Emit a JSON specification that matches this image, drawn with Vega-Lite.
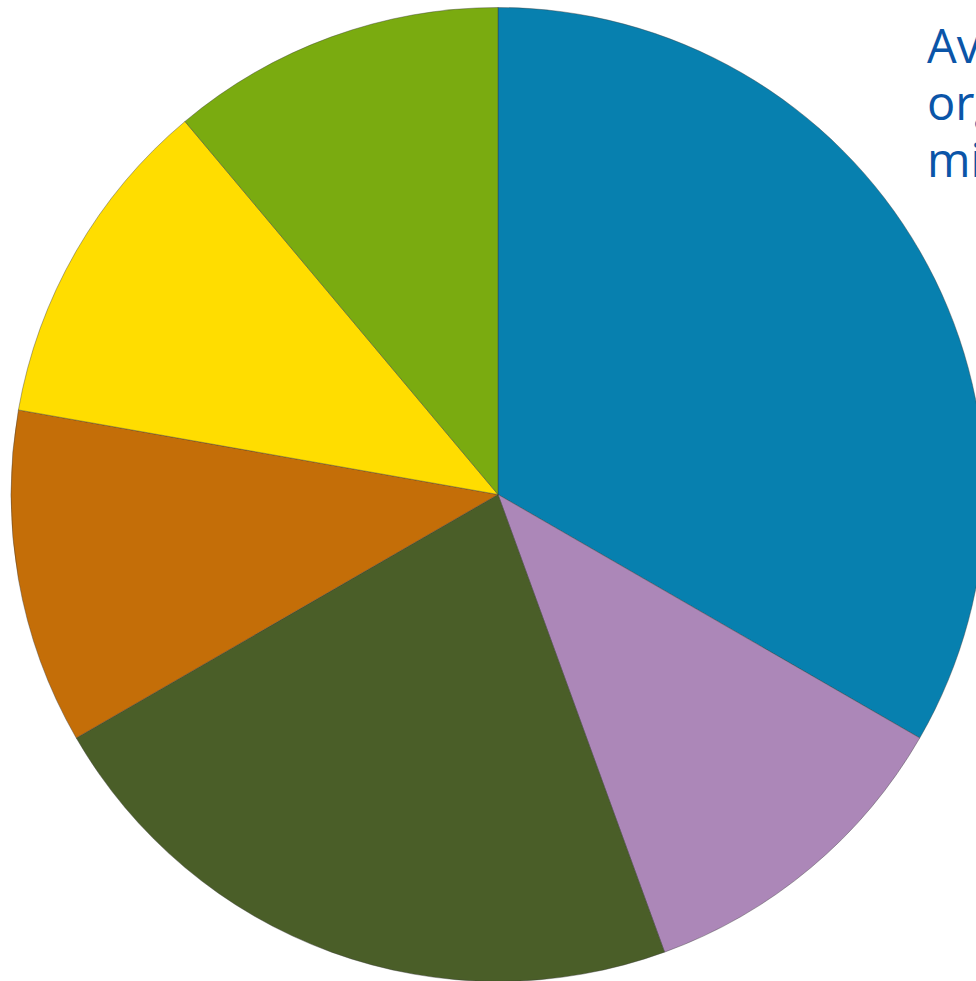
{
  "$schema": "https://vega.github.io/schema/vega-lite/v6.json",
  "width": 976,
  "height": 981,
  "padding": 0,
  "autosize": {"type": "none"},
  "background": "#ffffff",
  "title": {
    "text": ["Av", "org", "mi"],
    "orient": "top",
    "anchor": "start",
    "frame": "group",
    "align": "left",
    "baseline": "alphabetic",
    "offset": 0,
    "dx": 927,
    "dy": 224,
    "font": "Open Sans",
    "fontSize": 47,
    "fontWeight": "normal",
    "lineHeight": 57,
    "color": "#0B55A8"
  },
  "data": {
    "values": [
      {"category": "Slice 1", "value": 3, "rank": 1},
      {"category": "Slice 2", "value": 1, "rank": 2},
      {"category": "Slice 3", "value": 2, "rank": 3},
      {"category": "Slice 4", "value": 1, "rank": 4},
      {"category": "Slice 5", "value": 1, "rank": 5},
      {"category": "Slice 6", "value": 1, "rank": 6}
    ]
  },
  "mark": {
    "type": "arc",
    "radius": 487,
    "xOffset": 10,
    "yOffset": 4,
    "stroke": "#3a3a3a",
    "strokeWidth": 0.8,
    "strokeOpacity": 0.5
  },
  "encoding": {
    "theta": {"field": "value", "type": "quantitative", "stack": true},
    "order": {"field": "rank", "type": "quantitative"},
    "color": {
      "field": "category",
      "type": "nominal",
      "legend": null,
      "scale": {
        "domain": ["Slice 1", "Slice 2", "Slice 3", "Slice 4", "Slice 5", "Slice 6"],
        "range": ["#0780AF", "#AC87B8", "#4A5E28", "#C46E08", "#FFDD00", "#7AAB10"]
      }
    }
  },
  "config": {"view": {"stroke": null}}
}
